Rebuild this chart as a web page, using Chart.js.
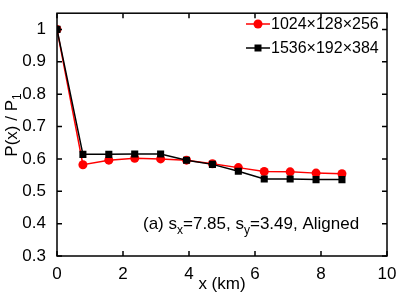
<!DOCTYPE html>
<html>
<head>
<meta charset="utf-8">
<script src="https://cdn.jsdelivr.net/npm/chart.js"></script>
<style>
  body { margin: 0; background: #fff; }
  #wrap { position: relative; width: 407px; height: 295px; }
</style>
</head>
<body>
<div id="wrap"><canvas id="c"></canvas></div>
<script>
// data
const xKm = [0, 0.785, 1.57, 2.355, 3.14, 3.925, 4.71, 5.495, 6.28, 7.065, 7.85, 8.635];
const coarse = [1.0, 0.582, 0.596, 0.602, 0.600, 0.596, 0.585, 0.573, 0.561, 0.560, 0.556, 0.554];
const fine = [1.0, 0.614, 0.614, 0.615, 0.615, 0.596, 0.583, 0.562, 0.538, 0.538, 0.536, 0.536];
const seriesNames = ["1024\u00d7128\u00d7256", "1536\u00d7192\u00d7384"];
const xTicks = [0, 2, 4, 6, 8, 10];
const yTicks = [0.3, 0.4, 0.5, 0.6, 0.7, 0.8, 0.9, 1.0];

const FONT = '"Liberation Sans", Arial, Helvetica, sans-serif';

// box, inward ticks on all sides, legend, labels
const framePlugin = {
  id: 'frame',
  afterDraw(chart) {
    const { ctx, chartArea: a, scales } = chart;
    const xs = scales.x, ys = scales.y;
    ctx.save();
    ctx.strokeStyle = '#000';
    ctx.lineWidth = 1.5;
    ctx.strokeRect(a.left, a.top, a.right - a.left, a.bottom - a.top);

    const tl = 5;
    ctx.beginPath();
    xTicks.forEach(v => {
      const px = xs.getPixelForValue(v);
      ctx.moveTo(px, a.bottom); ctx.lineTo(px, a.bottom - tl);
      ctx.moveTo(px, a.top); ctx.lineTo(px, a.top + tl);
    });
    yTicks.forEach(v => {
      const py = ys.getPixelForValue(v);
      ctx.moveTo(a.left, py); ctx.lineTo(a.left + tl, py);
      ctx.moveTo(a.right, py); ctx.lineTo(a.right - tl, py);
    });
    ctx.stroke();

    // legend
    ctx.textBaseline = 'middle';
    ctx.textAlign = 'left';
    ctx.font = '16px ' + FONT;
    chart.data.datasets.forEach((ds, i) => {
      const y = 24 + i * 24;
      const x0 = 246, x1 = 270;
      ctx.strokeStyle = ds.borderColor;
      ctx.lineWidth = 1.5;
      ctx.beginPath(); ctx.moveTo(x0, y); ctx.lineTo(x1, y); ctx.stroke();
      ctx.fillStyle = ds.borderColor;
      ctx.beginPath();
      if (ds.pointStyle === 'rect') ctx.rect(x0 + 12 - 3.5, y - 3.5, 7, 7);
      else ctx.arc(x0 + 12, y, 4.5, 0, Math.PI * 2);
      ctx.fill();
      ctx.fillStyle = '#000';
      ctx.fillText(ds.label, 271, y + 1);
    });

    // annotation with subscripts
    ctx.textBaseline = 'alphabetic';
    const parts = [
      ['(a) s', 17, 0], ['x', 12, 5], ['=7.85, s', 17, 0], ['y', 12, 5], ['=3.49, Aligned', 17, 0]
    ];
    let tx = 143;
    parts.forEach(([t, sz, dy]) => {
      ctx.font = sz + 'px ' + FONT;
      ctx.fillText(t, tx, 229 + dy);
      tx += ctx.measureText(t).width;
    });

    // y title
    ctx.save();
    ctx.translate(17, 125);
    ctx.rotate(-Math.PI / 2);
    const main = 'P(x) / P';
    ctx.font = '17px ' + FONT;
    const w1 = ctx.measureText(main).width;
    ctx.font = '12px ' + FONT;
    const w2 = ctx.measureText('1').width;
    const sx = -(w1 + w2) / 2;
    ctx.font = '17px ' + FONT;
    ctx.fillText(main, sx, 0);
    ctx.font = '12px ' + FONT;
    ctx.fillText('1', sx + w1, 4);
    ctx.restore();

    ctx.restore();
  }
};

new Chart(document.getElementById('c'), {
  type: 'line',
  data: {
    datasets: [
      {
        label: seriesNames[0],
        data: xKm.map((x, i) => ({ x, y: coarse[i] })),
        borderColor: '#ff0000',
        backgroundColor: '#ff0000',
        borderWidth: 1.5,
        pointStyle: 'circle',
        pointRadius: 4.5,
        pointBorderWidth: 0,
        tension: 0,
        order: 1
      },
      {
        label: seriesNames[1],
        data: xKm.map((x, i) => ({ x, y: fine[i] })),
        borderColor: '#000000',
        backgroundColor: '#000000',
        borderWidth: 1.5,
        pointStyle: 'rect',
        pointRadius: 5,
        pointBorderWidth: 0,
        tension: 0,
        order: 0
      }
    ]
  },
  options: {
    responsive: true,
    maintainAspectRatio: false,
    animation: false,
    layout: { padding: { top: 7, right: 20, left: 0, bottom: 0 } },
    plugins: { legend: { display: false }, tooltip: { enabled: false } },
    scales: {
      x: {
        type: 'linear',
        min: 0, max: 10,
        afterBuildTicks: s => { s.ticks = xTicks.map(v => ({ value: v })); },
        ticks: { color: '#000', font: { family: FONT, size: 17 }, padding: 0, maxRotation: 0 },
        grid: { display: false },
        border: { display: false },
        title: { display: true, text: 'x (km)', color: '#000', font: { family: FONT, size: 17 }, padding: { top: 0, bottom: 0 } },
        afterFit: s => { s.height = 39; }
      },
      y: {
        min: 0.3, max: 1.05,
        afterBuildTicks: s => { s.ticks = yTicks.map(v => ({ value: v })); },
        ticks: {
          color: '#000', font: { family: FONT, size: 17 }, padding: 3,
          callback: v => (Math.abs(v - 1) < 1e-9 ? '1' : v.toFixed(1))
        },
        grid: { display: false },
        border: { display: false },
        afterFit: s => { s.width = 57; }
      }
    }
  },
  plugins: [framePlugin]
});
</script>
</body>
</html>
